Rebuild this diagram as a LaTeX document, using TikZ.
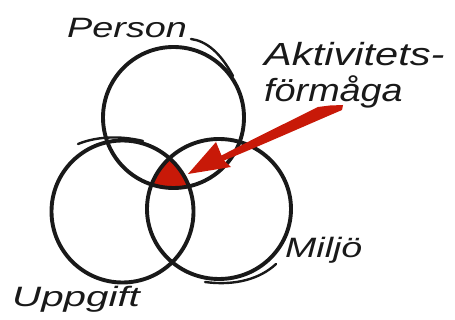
\documentclass[tikz,border=0pt]{standalone}
\usepackage{fontspec}
\setmainfont{Liberation Sans}
\definecolor{ink}{RGB}{25,25,25}
\definecolor{arrowred}{RGB}{200,25,8}
\begin{document}
\begin{tikzpicture}[x=1pt,y=-1pt,
  ring/.style={draw=ink, line width=3.9pt},
  sketch/.style={draw=ink, line width=2.4pt, line cap=round},
  lbl/.style={inner sep=0pt, anchor=base west, text=ink, font=\fontsize{28}{30}\selectfont\itshape}]
\useasboundingbox (0,0) rectangle (455,320);
\coordinate (P) at (173.5,117.5);
\coordinate (U) at (122.5,211.5);
\coordinate (M) at (219,209);
% red common region
\begin{scope}
  \clip (P) circle (70.5pt);
  \clip (U) circle (71pt);
  \fill[arrowred] (M) ellipse (72pt and 70pt);
\end{scope}
% circles
\draw[ring] (P) circle (70.5pt);
\draw[ring] (U) circle (71pt);
\draw[ring] (M) ellipse (72pt and 70pt);
% sketchy extra strokes
\draw[sketch] (191,39) .. controls (206,41) and (220,52) .. (233,76);
\draw[sketch] (78,144) .. controls (95,137) and (118,135) .. (143,141);
\draw[sketch] (205,282) .. controls (235,286) and (260,279) .. (276,264);
% labels
\node[lbl] (person) at (67,38) {\scalebox{1.35}[1]{Person}};
\node[lbl] (akt1) at (264,66) {\fontsize{32}{34}\selectfont\scalebox{1.3}[1]{Aktivitets-}};
\node[lbl] (akt2) at (264,102) {\fontsize{32}{34}\selectfont\scalebox{1.18}[1]{förmåga}};
\node[lbl] (uppgift) at (12,306) {\scalebox{1.44}[1]{Uppgift}};
\node[lbl] (miljo) at (285,258) {\scalebox{1.34}[1]{Miljö}};
% arrow
\coordinate (tip) at (188,174);
\fill[arrowred] (tip) -- (216,142) -- (221.5,155.5)
  .. controls (255,138) and (292,120) .. (318,107)
  -- (330,105.5) -- (343,105) -- (342,110)
  .. controls (300,128) and (262,145) .. (224,160.5)
  -- (231,167) -- cycle;
\end{tikzpicture}
\end{document}
